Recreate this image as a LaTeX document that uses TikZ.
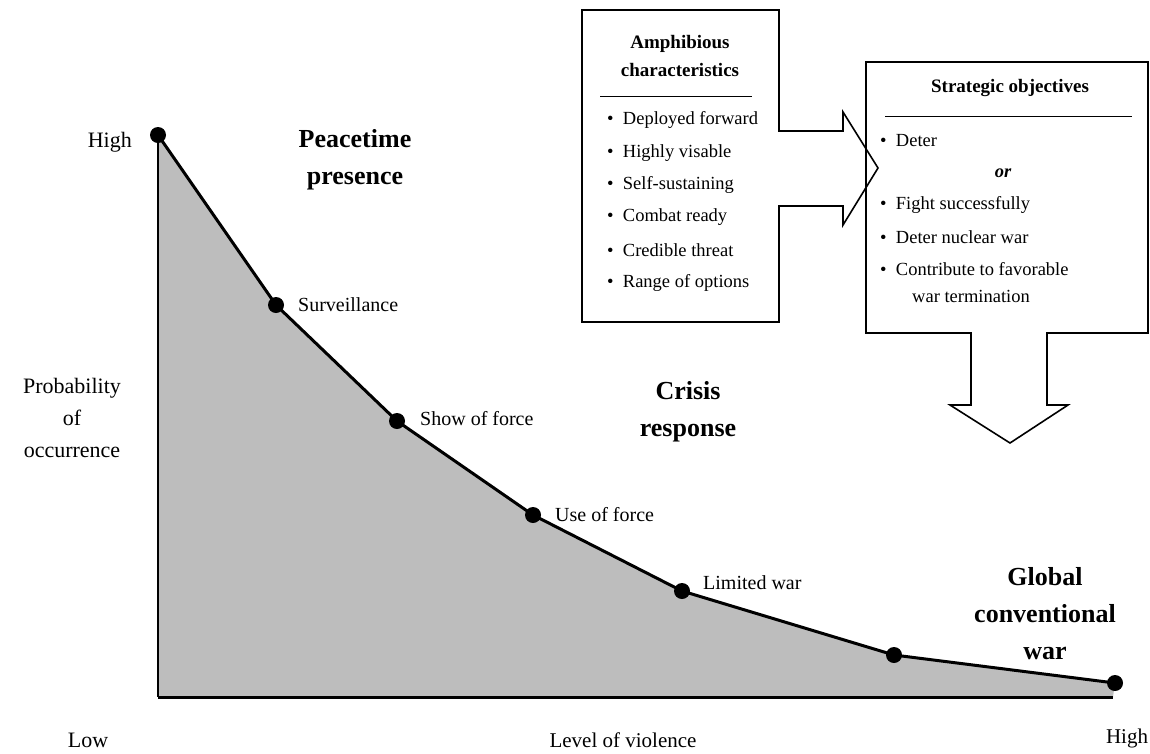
\documentclass[tikz,border=0pt]{standalone}
\usepackage{fontspec}
\setmainfont{Liberation Serif}
\begin{document}
\begin{tikzpicture}[x=1pt,y=-1pt,
  lbl/.style={inner sep=0pt,font=\fontsize{20}{23}\selectfont},
  axl/.style={inner sep=0pt,font=\fontsize{22}{24}\selectfont},
  head/.style={inner sep=0pt,align=center,font=\fontsize{26}{37}\selectfont\bfseries},
  bhead/.style={inner sep=0pt,align=center,font=\fontsize{19}{28}\selectfont\bfseries},
  itm/.style={inner sep=0pt,anchor=west,font=\fontsize{18.5}{21}\selectfont},
  dot/.style={circle,fill=black,inner sep=0pt,minimum size=16pt},
  curve/.style={line width=3pt,line join=round},
  outline/.style={line width=1.6pt,line join=miter}]
\useasboundingbox (0,0) rectangle (1150,753);
% curve points
\coordinate (p0) at (158,135);
\coordinate (p1) at (276,305);
\coordinate (p2) at (397,421);
\coordinate (p3) at (533,515);
\coordinate (p4) at (682,591);
\coordinate (p5) at (894,655);
\coordinate (p6) at (1115,683);
\coordinate (o) at (158,697);
\coordinate (xe) at (1113,697);
% shaded area
\fill[black!26] (p0) -- (p1) -- (p2) -- (p3) -- (p4) -- (p5) -- (p6) -- (xe) -- (o) -- cycle;
\draw[line width=2.5pt] (p0) -- (o);
\draw[line width=3pt] (o) -- (xe);
\draw[curve] (p0) -- (p1) -- (p2) -- (p3) -- (p4) -- (p5) -- (p6);
\foreach \p in {p0,p1,p2,p3,p4,p5,p6} \node[dot] at (\p) {};
% curve labels
\node[lbl,anchor=west] (surv) at (298,305) {Surveillance};
\node[lbl,anchor=west] (show) at (420,419) {Show of force};
\node[lbl,anchor=west] (use) at (555,515) {Use of force};
\node[lbl,anchor=west] (lim) at (703,583) {Limited war};
% region headings
\node[head] (peace) at (355,160) {Peacetime\\presence};
\node[head] (crisis) at (688,412) {Crisis\\response};
\node[head] (global) at (1045,614) {Global\\conventional\\war};
% axis labels
\node[axl,anchor=east] (yhigh) at (132,142) {High};
\node[axl,align=center,font=\fontsize{22}{32}\selectfont] (prob) at (72,418) {Probability\\of\\occurrence};
\node[axl] (low) at (88,740) {Low};
\node[axl,font=\fontsize{21}{24}\selectfont] (lev) at (623,740) {Level of violence};
\node[axl,font=\fontsize{21}{24}\selectfont] (xhigh) at (1127,738) {High};
% box 1 with right arrow
\draw[outline] (582,10) -- (779,10) -- (779,131) -- (843,131) -- (843,112) -- (878,168)
  -- (843,225) -- (843,206) -- (779,206) -- (779,322) -- (582,322) -- cycle;
\node[bhead] (amph) at (680,56) {Amphibious\\characteristics};
\draw[line width=1pt] (600,96) -- (752,96);
\node[itm] (a1) at (607,120) {\textbullet\ \ Deployed forward};
\node[itm] (a2) at (607,153) {\textbullet\ \ Highly visable};
\node[itm] (a3) at (607,185) {\textbullet\ \ Self-sustaining};
\node[itm] (a4) at (607,217) {\textbullet\ \ Combat ready};
\node[itm] (a5) at (607,250) {\textbullet\ \ Credible threat};
\node[itm] (a6) at (607,283) {\textbullet\ \ Range of options};
% box 2 with down arrow
\draw[outline] (866,62) -- (1148,62) -- (1148,333) -- (1047,333) -- (1047,405) -- (1068,405)
  -- (1010,443) -- (950,405) -- (971,405) -- (971,333) -- (866,333) -- cycle;
\node[bhead] (strat) at (1010,88) {Strategic objectives};
\draw[line width=1pt] (885,116) -- (1132,116);
\node[itm] (s1) at (880,141) {\textbullet\ \ Deter};
\node[itm,anchor=center,font=\fontsize{18.5}{21}\selectfont\bfseries\itshape] (sor) at (1003,173) {or};
\node[itm] (s2) at (880,205) {\textbullet\ \ Fight successfully};
\node[itm] (s3) at (880,237) {\textbullet\ \ Deter nuclear war};
\node[itm] (s4) at (880,269) {\textbullet\ \ Contribute to favorable};
\node[itm] (s5) at (912,296) {war termination};
\end{tikzpicture}
\end{document}
